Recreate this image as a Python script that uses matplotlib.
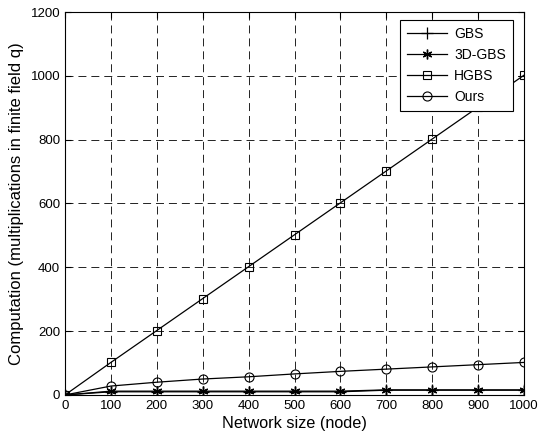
import matplotlib
matplotlib.use("Agg")
import matplotlib.pyplot as plt

plt.rcParams['font.family'] = ['Liberation Sans', 'DejaVu Sans']

nodes = [0, 100, 200, 300, 400, 500, 600, 700, 800, 900, 1000]
gbs = [0, 10, 10, 10, 10, 10, 10, 15, 15, 15, 15]
gbs3d = [0, 12, 12, 12, 12, 12, 12, 16, 16, 16, 16]
hgbs = [0, 102, 202, 302, 402, 502, 602, 702, 802, 902, 1002]
ours = [0, 28, 40, 50, 57, 66, 74, 81, 88, 95, 102]

x_ticks = list(range(0, 1001, 100))
y_ticks = list(range(0, 1201, 200))

fig = plt.figure(figsize=(5.39, 4.43), dpi=100)
ax = fig.add_axes([0.1206, 0.1084, 0.8516, 0.8645])

ax.plot(nodes, gbs, color='black', lw=0.9, marker='+', ms=8, mew=0.9, label='GBS')
ax.plot(nodes, gbs3d, color='black', lw=0.9, marker=(6, 2, 0), ms=7, mew=1.0, label='3D-GBS')
ax.plot(nodes, hgbs, color='black', lw=0.9, marker='s', ms=6, mfc='none', mew=0.8, label='HGBS')
ax.plot(nodes, ours, color='black', lw=0.9, marker='o', ms=6.5, mfc='none', mew=0.8, label='Ours')

ax.set_xlim(0, 1000)
ax.set_ylim(0, 1200)
ax.set_xticks(x_ticks)
ax.set_yticks(y_ticks)
ax.tick_params(direction='in', length=4, labelsize=9.5, width=0.8)
ax.tick_params(top=True, right=True)
ax.grid(True, color='#222222', linestyle=(0, (8.2, 5.1)), lw=0.7)
for s in ax.spines.values():
    s.set_linewidth(0.8)

ax.set_xlabel('Network size (node)', fontsize=11.7, labelpad=3)
ax.set_ylabel('Computation (multiplications in finite field q)', fontsize=12, labelpad=5)

leg = ax.legend(loc='upper right', bbox_to_anchor=(0.976, 0.979), fontsize=10,
                frameon=True, fancybox=False, edgecolor='black', framealpha=1,
                handlelength=2.9, handletextpad=0.5, borderpad=0.5,
                borderaxespad=0, labelspacing=0.5)
leg.get_frame().set_linewidth(0.8)

fig.savefig('out.png', dpi=100)
